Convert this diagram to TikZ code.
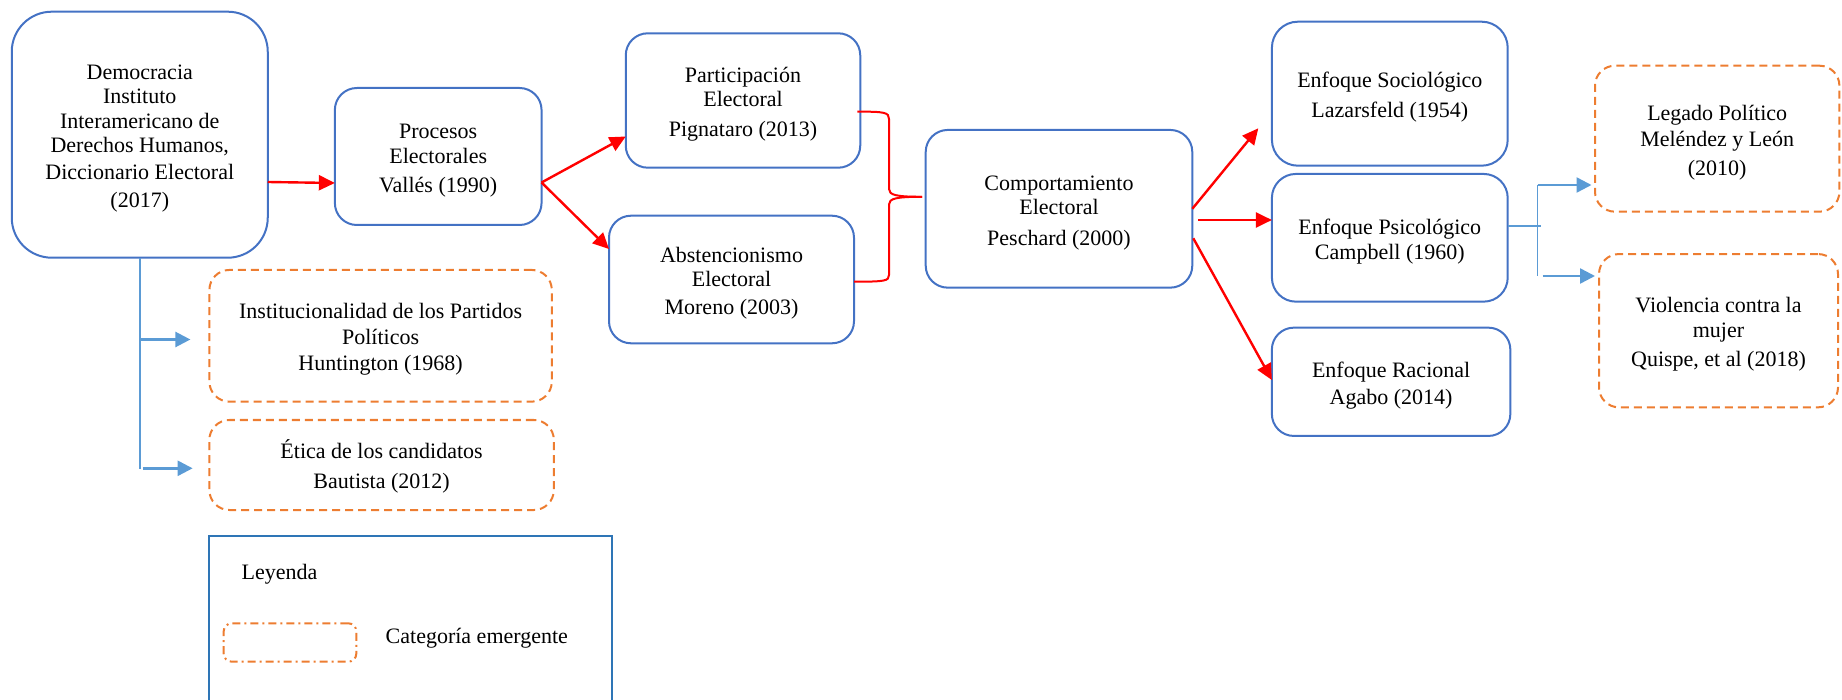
\documentclass[tikz,border=0pt]{standalone}
\usepackage{fontspec}
\setmainfont{Liberation Serif}
\usetikzlibrary{arrows.meta,calc}
\definecolor{boxblue}{RGB}{68,114,196}
\definecolor{arrowblue}{RGB}{91,155,213}
\definecolor{emorange}{RGB}{237,125,49}
\definecolor{legblue}{RGB}{46,117,182}
\newcommand\fl{\rule{0pt}{22.5pt}}
\begin{document}
\begin{tikzpicture}[x=1pt,y=-1pt,
  every node/.style={inner sep=0pt, outer sep=0pt, font=\fontsize{22}{24.3}\selectfont, align=center},
  bluebox/.style={draw=boxblue, line width=2pt, rounded corners=22pt},
  orangebox/.style={draw=emorange, line width=2pt, rounded corners=20pt, dash pattern=on 8pt off 5pt},
  redarrow/.style={draw=red, line width=2.4pt, -{Triangle[length=16pt,width=15pt]}},
  bluearrow/.style={draw=arrowblue, line width=2.4pt, -{Triangle[length=15pt,width=15pt]}},
  blueline/.style={draw=arrowblue, line width=1.6pt},
  bracestyle/.style={draw=red, line width=2pt},
]
\useasboundingbox (0,0) rectangle (1842,700);
\clip (0,0) rectangle (1842,700);

% main boxes
\node (demo) [bluebox, rounded corners=40pt, minimum width=256pt, minimum height=246pt] at (139.75,134.7)
  {\fl Democracia\\Instituto\\Interamericano de\\[0.4pt]Derechos Humanos,\\[2.6pt]Diccionario Electoral\\[3.4pt](2017)};
\node (proc) [bluebox, minimum width=206.7pt, minimum height=137pt] at (438.2,156.5)
  {\fl Procesos\\[0.7pt]Electorales\\[5pt]Vallés (1990)};
\node (part) [bluebox, minimum width=234.5pt, minimum height=134.4pt] at (743,100.5)
  {\fl Participación\\Electoral\\[5pt]Pignataro (2013)};
\node (abst) [bluebox, minimum width=245pt, minimum height=127.6pt] at (731.5,279.5)
  {\fl Abstencionismo\\Electoral\\[3.4pt]Moreno (2003)};
\node (comp) [bluebox, minimum width=266.6pt, minimum height=157.7pt] at (1059,208.8)
  {\fl Comportamiento\\Electoral\\[6.3pt]Peschard (2000)};
\node (soc) [bluebox, rounded corners=26pt, minimum width=235.8pt, minimum height=144pt] at (1389.8,93.7)
  {\fl Enfoque Sociológico\\[5.5pt]Lazarsfeld (1954)};
\node (psi) [bluebox, rounded corners=24pt, minimum width=235.8pt, minimum height=127.7pt] at (1389.8,237.8)
  {\fl Enfoque Psicológico\\[1pt]Campbell (1960)};
\node (rac) [bluebox, minimum width=238.5pt, minimum height=108.3pt] at (1391.1,381.8)
  {\fl Enfoque Racional\\[3pt]Agabo (2014)};

% emergent categories
\node (leg) [orangebox, minimum width=244.4pt, minimum height=146pt] at (1717.2,138.7)
  {\fl Legado Político\\[2.3pt]Meléndez y León\\[4pt](2010)};
\node (vio) [orangebox, minimum width=239pt, minimum height=153.3pt] at (1718.5,330.7)
  {\fl Violencia contra la\\[0.7pt]mujer\\[5pt]Quispe, et al (2018)};
\node (inst) [orangebox, minimum width=342.4pt, minimum height=131.7pt] at (380.6,335.8)
  {\fl Institucionalidad de los Partidos\\[1.4pt]Políticos\\[1.7pt]Huntington (1968)};
\node (etica) [orangebox, minimum width=344.5pt, minimum height=90pt] at (381.6,465)
  {\fl Ética de los candidatos\\[5.7pt]Bautista (2012)};

% legend
\node (legend) [draw=legblue, line width=2pt, minimum width=402.6pt, minimum height=200pt, anchor=north west] at (209.4,535.7) {};
\node (leyenda) [anchor=west] at (241.6,574) {Leyenda};
\node (sample) [draw=emorange, line width=2pt, rounded corners=8pt, dash pattern=on 8pt off 4pt on 2pt off 4pt,
  minimum width=132.6pt, minimum height=38.4pt] at (290,642.5) {};
\node (samplelabel) [anchor=west] at (385.7,638.5) {Categoría emergente};

% red arrows
\draw[redarrow] ([yshift=-47.3pt]demo.east) -- ([yshift=-26.5pt]proc.west);
\draw[redarrow] ([yshift=-26pt]proc.east) -- ([yshift=-36pt]part.west);
\draw[redarrow] ([yshift=-26pt]proc.east) -- ([yshift=30.5pt]abst.west);
\draw[redarrow] (comp.east) -- ([xshift=-13.6pt,yshift=-34.6pt]soc.west);
\draw[redarrow] ([xshift=6pt,yshift=-11.2pt]comp.east) -- ([yshift=17.8pt]psi.west);
\draw[redarrow] ([xshift=1pt,yshift=-29.5pt]comp.east) -- ([yshift=1.8pt]rac.west);

% brace
\coordinate (bracetip) at ([xshift=-3.7pt,yshift=12pt]comp.west);
\draw[bracestyle] ([xshift=-3pt,yshift=-11.2pt]part.east) .. controls (885,111.5) and (889,112.5) .. (889,119)
  -- (889,189) .. controls (889,195) and (896,196.8) .. (bracetip);
\draw[bracestyle] (bracetip) .. controls (896,196.8) and (889,198.5) .. (889,204.5)
  -- (889,275) .. controls (889,281) and (885,281.7) .. ([yshift=-2.2pt]abst.east);

% blue connectors from Democracia
\draw[blueline] (demo.south) -- ([yshift=-211.3pt]demo.south);
\draw[bluearrow] ([xshift=1pt,yshift=-81.8pt]demo.south) -- ([xshift=-19pt,yshift=-3.7pt]inst.west);
\draw[bluearrow] ([xshift=3pt,yshift=-210.6pt]demo.south) -- ([xshift=-16.7pt,yshift=-3.3pt]etica.west);

% blue connectors from Psicologico
\coordinate (fork) at ([xshift=29.8pt,yshift=11.8pt]psi.east);
\draw[blueline] ([yshift=11.8pt]psi.east) -- ([xshift=3pt]fork);
\draw[blueline] ([yshift=41pt]fork) -- ([yshift=-50pt]fork);
\draw[bluearrow] ([yshift=41pt]fork) -- ([xshift=-3.5pt,yshift=-46.3pt]leg.west);
\draw[bluearrow] ([xshift=5pt,yshift=-50pt]fork) -- ([xshift=-4pt,yshift=54.7pt]vio.west);
\end{tikzpicture}
\end{document}
